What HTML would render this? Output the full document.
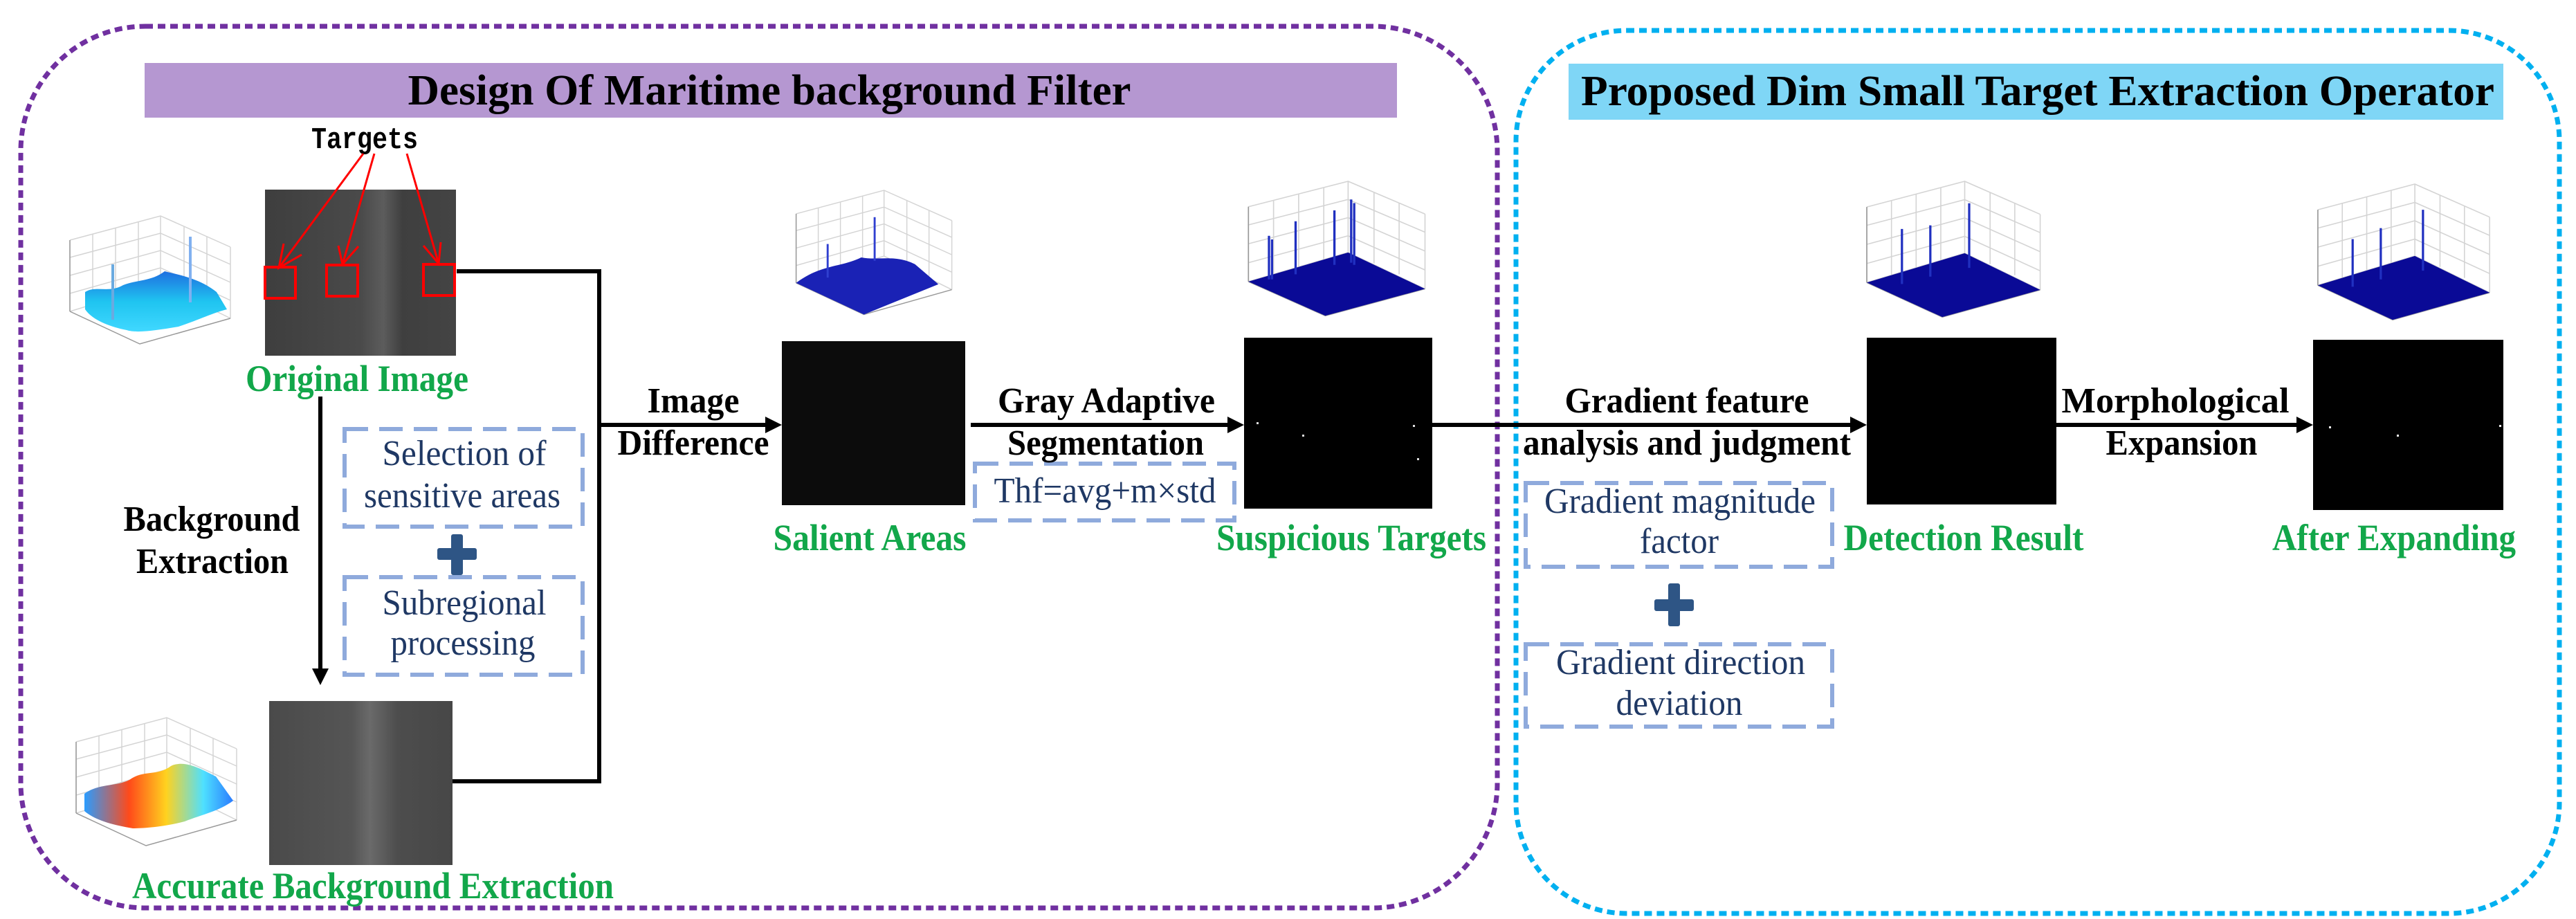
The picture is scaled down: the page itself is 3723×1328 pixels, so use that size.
<!DOCTYPE html>
<html><head><meta charset="utf-8"><style>
html,body{margin:0;padding:0;background:#fff;}
svg{display:block;}
.h{font-family:"Liberation Serif",serif;font-weight:bold;fill:#000;}
.g{font-family:"Liberation Serif",serif;font-weight:bold;fill:#12a74a;}
.n{font-family:"Liberation Serif",serif;fill:#1f3864;}
</style></head><body>
<svg width="3723" height="1328" viewBox="0 0 3723 1328" xmlns="http://www.w3.org/2000/svg">
<defs>
<g id="ax" fill="none" stroke="#d4d4d4" stroke-width="1.5">
  <polyline points="13,35 144,0 245,45"/>
  <line x1="144" y1="0" x2="144" y2="98"/>
  <line x1="13" y1="35" x2="13" y2="138"/>
  <line x1="245" y1="45" x2="245" y2="148"/>
  <polyline points="13,60 144,25 245,70"/>
  <polyline points="13,86 144,50 245,96"/>
  <polyline points="13,112 144,75 245,122"/>
  <line x1="46" y1="26" x2="46" y2="129"/><line x1="79" y1="17" x2="79" y2="120"/><line x1="112" y1="9" x2="112" y2="111"/>
  <line x1="178" y1="15" x2="178" y2="113"/><line x1="211" y1="30" x2="211" y2="128"/>
  <polyline points="13,138 144,98 245,148" />
  <polyline points="13,138 114,185 245,148" stroke="#999"/>
  <line x1="13" y1="35" x2="13" y2="138" stroke="#999"/>
</g>
<linearGradient id="cy" x1="0" y1="0" x2="0" y2="1"><stop offset="0" stop-color="#1f6fe0"/><stop offset="0.5" stop-color="#1fc4f0"/><stop offset="1" stop-color="#40d8ff"/></linearGradient>
<linearGradient id="hot" x1="0" y1="0" x2="1" y2="0"><stop offset="0" stop-color="#2a9cff"/><stop offset="0.3" stop-color="#ff4a1a"/><stop offset="0.55" stop-color="#ffd21f"/><stop offset="0.8" stop-color="#4ee0ff"/><stop offset="1" stop-color="#2a7cff"/></linearGradient>
<linearGradient id="orig" x1="0" y1="0" x2="1" y2="0"><stop offset="0" stop-color="#3e3e3e"/><stop offset="0.5" stop-color="#4a4a4a"/><stop offset="0.62" stop-color="#5c5c5c"/><stop offset="0.72" stop-color="#3f3f3f"/><stop offset="1" stop-color="#444"/></linearGradient>
<linearGradient id="bg" x1="0" y1="0" x2="1" y2="0"><stop offset="0" stop-color="#4a4a4a"/><stop offset="0.45" stop-color="#555"/><stop offset="0.55" stop-color="#6a6a6a"/><stop offset="0.7" stop-color="#4d4d4d"/><stop offset="1" stop-color="#474747"/></linearGradient>
</defs>

<rect x="30" y="38" width="2134" height="1274" rx="180" ry="180" fill="none" stroke="#7030a0" stroke-width="7" stroke-dasharray="11 7"/>
<rect x="2191" y="44" width="1508" height="1276" rx="160" ry="160" fill="none" stroke="#00b0f0" stroke-width="7" stroke-dasharray="11 7"/>

<rect x="209" y="91" width="1810" height="79" fill="#b597d1"/>
<text class="h" x="1112" y="151" font-size="62" text-anchor="middle" textLength="1045" lengthAdjust="spacingAndGlyphs">Design Of Maritime background Filter</text>
<rect x="2267" y="92" width="1351" height="81" fill="#7fd6f6"/>
<text class="h" x="2945" y="152" font-size="62" text-anchor="middle" textLength="1320" lengthAdjust="spacingAndGlyphs">Proposed Dim Small Target Extraction Operator</text>

<g transform="translate(88,312)"><use href="#ax"/>
<path d="M35,110 C50,100 70,112 90,100 C110,92 130,95 150,80 C170,85 200,90 225,110 L240,135 C220,140 200,150 170,160 C140,165 110,170 95,165 C70,160 45,150 35,135 Z" fill="url(#cy)"/>
<line x1="75" y1="70" x2="75" y2="150" stroke="#6aaae0" stroke-width="4"/><line x1="187" y1="30" x2="187" y2="125" stroke="#80b0f0" stroke-width="4"/></g>
<g transform="translate(97,1037)"><use href="#ax"/>
<path d="M25,110 C45,95 70,100 90,90 C110,75 130,85 150,70 C170,60 195,75 215,85 L240,120 C220,135 195,140 170,150 C140,158 110,160 95,160 C65,155 40,148 25,135 Z" fill="url(#hot)"/></g>
<g transform="translate(1138,275) scale(0.97)"><use href="#ax"/>
<path d="M13,138 C50,110 80,115 110,100 C135,105 160,95 190,110 L225,140 L114,185 Z" fill="#1a22b5"/>
<line x1="130" y1="40" x2="130" y2="105" stroke="#3040d0" stroke-width="3"/><line x1="60" y1="80" x2="60" y2="130" stroke="#3040d0" stroke-width="3"/></g>
<g transform="translate(1790,262) scale(1.1,1.05)"><use href="#ax"/>
<polygon points="13,138 114,185 245,148 144,98" fill="#0a0a96"/>
<g stroke="#2030c0" stroke-width="3"><line x1="40" y1="75" x2="40" y2="135"/><line x1="44" y1="80" x2="44" y2="135"/><line x1="75" y1="55" x2="75" y2="128"/><line x1="126" y1="40" x2="126" y2="115"/><line x1="148" y1="25" x2="148" y2="112"/><line x1="152" y1="30" x2="152" y2="115"/></g></g>
<g transform="translate(2684,262) scale(1.08,1.06)"><use href="#ax"/>
<polygon points="13,138 114,185 245,148 144,98" fill="#0a0a96"/>
<g stroke="#2030c0" stroke-width="3"><line x1="60" y1="65" x2="60" y2="140"/><line x1="98" y1="60" x2="98" y2="130"/><line x1="150" y1="30" x2="150" y2="118"/></g></g>
<g transform="translate(3336,266) scale(1.07,1.06)"><use href="#ax"/>
<polygon points="13,138 114,185 245,148 144,98" fill="#0a0a96"/>
<g stroke="#2030c0" stroke-width="3"><line x1="60" y1="75" x2="60" y2="140"/><line x1="98" y1="60" x2="98" y2="130"/><line x1="155" y1="35" x2="155" y2="118"/></g></g>

<rect x="383" y="274" width="276" height="240" fill="url(#orig)"/>
<rect x="389" y="1013" width="265" height="237" fill="url(#bg)"/>
<rect x="1130" y="493" width="265" height="237" fill="#0c0c0c"/>
<rect x="1798" y="488" width="272" height="247" fill="#000"/>
<g fill="#ddd"><rect x="1816" y="610" width="3" height="3"/><rect x="1882" y="628" width="3" height="3"/><rect x="2042" y="614" width="3" height="3"/><rect x="2048" y="662" width="3" height="3"/></g>
<rect x="2698" y="488" width="274" height="241" fill="#000"/>
<rect x="3343" y="491" width="275" height="246" fill="#000"/>
<g fill="#eee"><rect x="3366" y="616" width="3" height="3"/><rect x="3464" y="628" width="3" height="3"/><rect x="3612" y="614" width="3" height="3"/></g>

<text x="527" y="214" font-family="Liberation Mono,monospace" font-weight="bold" font-size="44" text-anchor="middle" textLength="154" lengthAdjust="spacingAndGlyphs">Targets</text>
<g stroke="#ff0000" stroke-width="3" fill="none">
<line x1="525" y1="222" x2="403" y2="387"/><polyline points="410,352 403,387 436,368"/>
<line x1="541" y1="222" x2="495" y2="382"/><polyline points="489,355 495,382 518,356"/>
<line x1="588" y1="222" x2="634" y2="381"/><polyline points="612,355 634,381 637,350"/>
<rect x="383" y="386" width="44" height="45" stroke-width="4"/>
<rect x="472" y="383" width="45" height="45" stroke-width="4"/>
<rect x="612" y="382" width="45" height="45" stroke-width="4"/>
</g>

<g stroke="#000" stroke-width="6" fill="none">
<polyline points="660,392 866,392 866,1129 654,1129"/>
<line x1="866" y1="614" x2="1110" y2="614"/>
<line x1="1403" y1="614" x2="1776" y2="614"/>
<line x1="2070" y1="614" x2="2678" y2="614"/>
<line x1="2972" y1="614" x2="3323" y2="614"/>
<line x1="463" y1="573" x2="463" y2="970"/>
</g>
<g fill="#000">
<polygon points="1130,614 1106,602 1106,626"/>
<polygon points="1798,614 1774,602 1774,626"/>
<polygon points="2698,614 2674,602 2674,626"/>
<polygon points="3343,614 3319,602 3319,626"/>
<polygon points="463,990 451,966 475,966"/>
</g>

<g fill="none" stroke="#8faadc" stroke-width="6" stroke-dasharray="34 16">
<rect x="498" y="620" width="344" height="141"/>
<rect x="498" y="834" width="344" height="141"/>
<rect x="1409" y="670" width="375" height="82"/>
<rect x="2205" y="698" width="443" height="121"/>
<rect x="2205" y="931" width="443" height="119"/>
</g>
<g fill="#2e5585">
<rect x="632" y="792" width="57" height="17" rx="3"/><rect x="652" y="772" width="17" height="59" rx="3"/>
<rect x="2391" y="866" width="57" height="17" rx="3"/><rect x="2411" y="843" width="17" height="62" rx="3"/>
</g>

<text class="g" x="516" y="565" font-size="54" text-anchor="middle" textLength="322" lengthAdjust="spacingAndGlyphs">Original Image</text>
<text class="h" x="306" y="767" font-size="52" text-anchor="middle" textLength="255" lengthAdjust="spacingAndGlyphs">Background</text>
<text class="h" x="307" y="828" font-size="52" text-anchor="middle" textLength="220" lengthAdjust="spacingAndGlyphs">Extraction</text>
<text class="n" x="671" y="672" font-size="52" text-anchor="middle" textLength="237" lengthAdjust="spacingAndGlyphs">Selection of</text>
<text class="n" x="668" y="733" font-size="52" text-anchor="middle" textLength="284" lengthAdjust="spacingAndGlyphs">sensitive areas</text>
<text class="n" x="671" y="888" font-size="52" text-anchor="middle" textLength="237" lengthAdjust="spacingAndGlyphs">Subregional</text>
<text class="n" x="669" y="946" font-size="52" text-anchor="middle" textLength="209" lengthAdjust="spacingAndGlyphs">processing</text>
<text class="g" x="539" y="1298" font-size="54" text-anchor="middle" textLength="696" lengthAdjust="spacingAndGlyphs">Accurate Background Extraction</text>
<text class="h" x="1002" y="596" font-size="52" text-anchor="middle" textLength="133" lengthAdjust="spacingAndGlyphs">Image</text>
<text class="h" x="1002" y="657" font-size="52" text-anchor="middle" textLength="219" lengthAdjust="spacingAndGlyphs">Difference</text>
<text class="g" x="1257" y="795" font-size="54" text-anchor="middle" textLength="279" lengthAdjust="spacingAndGlyphs">Salient Areas</text>
<text class="h" x="1599" y="596" font-size="52" text-anchor="middle" textLength="314" lengthAdjust="spacingAndGlyphs">Gray Adaptive</text>
<text class="h" x="1598" y="657" font-size="52" text-anchor="middle" textLength="284" lengthAdjust="spacingAndGlyphs">Segmentation</text>
<text class="n" x="1597" y="726" font-size="52" text-anchor="middle" textLength="321" lengthAdjust="spacingAndGlyphs">Thf=avg+m×std</text>
<text class="g" x="1953" y="795" font-size="54" text-anchor="middle" textLength="390" lengthAdjust="spacingAndGlyphs">Suspicious Targets</text>
<text class="h" x="2438" y="596" font-size="52" text-anchor="middle" textLength="353" lengthAdjust="spacingAndGlyphs">Gradient feature</text>
<text class="h" x="2438" y="657" font-size="52" text-anchor="middle" textLength="474" lengthAdjust="spacingAndGlyphs">analysis and judgment</text>
<text class="n" x="2428" y="741" font-size="52" text-anchor="middle" textLength="392" lengthAdjust="spacingAndGlyphs">Gradient magnitude</text>
<text class="n" x="2427" y="799" font-size="52" text-anchor="middle" textLength="114" lengthAdjust="spacingAndGlyphs">factor</text>
<text class="n" x="2429" y="974" font-size="52" text-anchor="middle" textLength="360" lengthAdjust="spacingAndGlyphs">Gradient direction</text>
<text class="n" x="2427" y="1033" font-size="52" text-anchor="middle" textLength="183" lengthAdjust="spacingAndGlyphs">deviation</text>
<text class="g" x="2838" y="795" font-size="54" text-anchor="middle" textLength="347" lengthAdjust="spacingAndGlyphs">Detection Result</text>
<text class="h" x="3144" y="596" font-size="52" text-anchor="middle" textLength="329" lengthAdjust="spacingAndGlyphs">Morphological</text>
<text class="h" x="3153" y="657" font-size="52" text-anchor="middle" textLength="219" lengthAdjust="spacingAndGlyphs">Expansion</text>
<text class="g" x="3460" y="795" font-size="54" text-anchor="middle" textLength="352" lengthAdjust="spacingAndGlyphs">After Expanding</text>
</svg>
</body></html>
